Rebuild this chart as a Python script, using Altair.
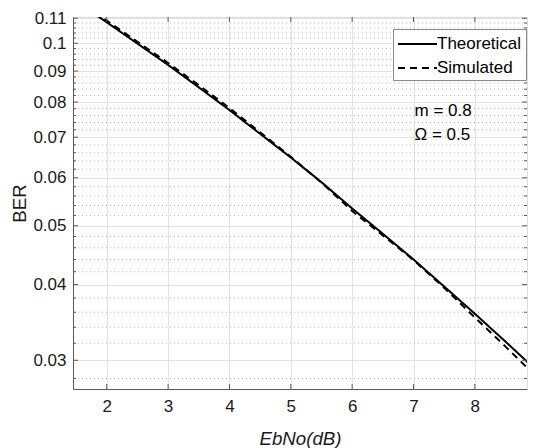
import altair as alt
import pandas as pd

# ---- data ----
ebno = [1.8, 2.0, 2.5, 3.0, 3.5, 4.0, 4.5, 5.0, 5.5, 6.0, 6.5, 7.0, 7.5, 8.0, 8.5, 9.0]
ber_theoretical = [0.1118, 0.1083, 0.0999, 0.0921, 0.0846, 0.0776, 0.0709, 0.0648,
                   0.0590, 0.0534, 0.0485, 0.0440, 0.0397, 0.0358, 0.0322, 0.0289]
ber_simulated = [0.1125, 0.1090, 0.1006, 0.0928, 0.0853, 0.0782, 0.0713, 0.0650,
                 0.0589, 0.0529, 0.0482, 0.0439, 0.0395, 0.0353, 0.0316, 0.0282]
series_names = ["Theoretical", "Simulated"]

x_ticks = [2, 3, 4, 5, 6, 7, 8]
y_ticks = [0.03, 0.04, 0.05, 0.06, 0.07, 0.08, 0.09, 0.1, 0.11]
y_minor = [0.028, 0.032, 0.034, 0.036, 0.038,
           0.042, 0.044, 0.046, 0.048,
           0.052, 0.054, 0.056, 0.058,
           0.062, 0.064, 0.066, 0.068,
           0.072, 0.074, 0.076, 0.078,
           0.082, 0.084, 0.086, 0.088,
           0.092, 0.094, 0.096, 0.098,
           0.102, 0.104, 0.106, 0.108]

ann_text = ["m = 0.8", "\u03a9 = 0.5"]
ann_x = [7.0, 7.0]
ann_y = [0.0772, 0.0707]

x_domain = [1.45, 8.85]
y_domain = [0.0269, 0.1105]

# ---- build tables ----
lines_df = pd.DataFrame({
    "x": ebno * 2,
    "y": ber_theoretical + ber_simulated,
    "series": [series_names[0]] * len(ebno) + [series_names[1]] * len(ebno),
})
xt_df = pd.DataFrame({"x": x_ticks})
yt_df = pd.DataFrame({"y": y_ticks})
ym_df = pd.DataFrame({"y": y_minor})
ann_df = pd.DataFrame({"x": ann_x, "y": ann_y, "t": ann_text})

W, H = 454, 372
FONT = "Liberation Sans"
AX = "#5a5a5a"
TXT = "#1a1a1a"

xscale = alt.Scale(domain=x_domain, nice=False, zero=False)
yscale = alt.Scale(type="log", domain=y_domain, nice=False)

x_axis = alt.Axis(values=x_ticks, format="d", grid=True, gridColor="#e2e2e2",
                  ticks=False, tickSize=0, domainColor=AX, labelPadding=9,
                  labelFontSize=17, labelFont=FONT, labelColor=TXT,
                  title="EbNo(dB)", titleFont=FONT, titleFontSize=18.7,
                  titleFontStyle="italic", titleFontWeight="normal",
                  titleColor=TXT, titlePadding=15)
y_axis = alt.Axis(values=y_ticks, format=".2~f", grid=True, gridColor="#e2e2e2",
                  ticks=False, tickSize=0, domainColor=AX, labelPadding=7,
                  labelFontSize=17, labelFont=FONT, labelColor=TXT,
                  title="BER", titleFont=FONT, titleFontSize=18.7,
                  titleFontWeight="normal", titleColor=TXT, titlePadding=3)

minor_grid = alt.Chart(ym_df).mark_rule(strokeDash=[1, 3], color="#b8b8b8", strokeWidth=1).encode(
    y=alt.Y("y:Q", scale=yscale, axis=y_axis)
)

lines = alt.Chart(lines_df).mark_line(color="black", strokeWidth=2, clip=True).encode(
    x=alt.X("x:Q", scale=xscale, axis=x_axis),
    y=alt.Y("y:Q", scale=yscale),
    strokeDash=alt.StrokeDash(
        "series:N",
        scale=alt.Scale(domain=series_names, range=[[1, 0], [7, 5]]),
        legend=alt.Legend(title=None, orient="none", legendX=320, legendY=12,
                          fillColor="white", strokeColor="#8a8a8a", padding=4,
                          symbolType="M-1,0H2.9", symbolSize=400, symbolStrokeWidth=2,
                          symbolStrokeColor="black", symbolFillColor="transparent",
                          labelFontSize=17, labelFont=FONT,
                          labelColor="black", labelOffset=18, rowPadding=5),
    ),
    order=alt.Order("x:Q"),
)

xt_bottom = alt.Chart(xt_df).mark_rule(color=AX).encode(
    x=alt.X("x:Q", scale=xscale), y=alt.value(H - 5), y2=alt.value(H))
xt_top = alt.Chart(xt_df).mark_rule(color=AX).encode(
    x=alt.X("x:Q", scale=xscale), y=alt.value(0), y2=alt.value(5))
yt_left = alt.Chart(yt_df).mark_rule(color=AX).encode(
    y=alt.Y("y:Q", scale=yscale), x=alt.value(0), x2=alt.value(5))
yt_right = alt.Chart(yt_df).mark_rule(color=AX).encode(
    y=alt.Y("y:Q", scale=yscale), x=alt.value(W - 5), x2=alt.value(W))
ym_left = alt.Chart(ym_df).mark_rule(color=AX).encode(
    y=alt.Y("y:Q", scale=yscale), x=alt.value(0), x2=alt.value(3))
ym_right = alt.Chart(ym_df).mark_rule(color=AX).encode(
    y=alt.Y("y:Q", scale=yscale), x=alt.value(W - 3), x2=alt.value(W))

ann = alt.Chart(ann_df).mark_text(align="left", baseline="middle", fontSize=17,
                                  font=FONT, color="black", dx=1).encode(
    x=alt.X("x:Q", scale=xscale), y=alt.Y("y:Q", scale=yscale), text="t:N")

chart = alt.layer(minor_grid, lines, xt_bottom, xt_top, yt_left, yt_right,
                  ym_left, ym_right, ann).properties(
    width=W, height=H,
    autosize=alt.AutoSizeParams(type="none"),
    padding={"left": 65, "top": 9, "right": 1, "bottom": 62},
).configure_view(stroke=AX, strokeWidth=1).configure(background="white")

chart.save("out.html", embed_options={"renderer": "svg", "actions": False})
